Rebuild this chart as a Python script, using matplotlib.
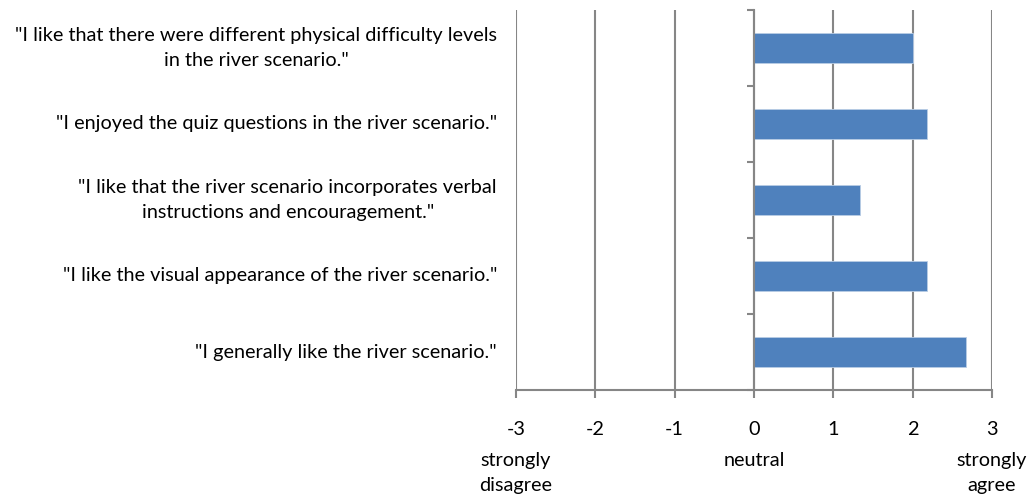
import matplotlib
matplotlib.use("Agg")
import matplotlib.pyplot as plt
import matplotlib.transforms as mtransforms

statements = [
    '"I like that there were different physical difficulty levels\nin the river scenario."',
    '"I enjoyed the quiz questions in the river scenario."',
    '"I like that the river scenario incorporates verbal\ninstructions and encouragement."',
    '"I like the visual appearance of the river scenario."',
    '"I generally like the river scenario."',
]
scores = [2.0, 2.18, 1.33, 2.18, 2.67]
xticks = [-3, -2, -1, 0, 1, 2, 3]
scale_labels = ["strongly\ndisagree", "neutral", "strongly\nagree"]
scale_positions = [-3, 0, 3]

plt.rcParams['font.family'] = ['Lato', 'DejaVu Sans']
FS = 14.35
GRID = '#868686'

fig = plt.figure(figsize=(10.32, 4.98), dpi=100)
ax = fig.add_axes([516/1032, 1-390/498, (992-516)/1032, 380/498])

ypos = list(range(len(statements)))
ax.barh(ypos, scores, height=0.4, color='#4F81BD', edgecolor='#B9CDE5', linewidth=0.6, zorder=3)

ax.set_xlim(-3, 3)
ax.set_ylim(len(statements) - 0.5, -0.5)

for x in xticks:
    ax.axvline(x, color=GRID, linewidth=1.5, zorder=1)

ax.spines['top'].set_visible(False)
ax.spines['right'].set_visible(False)
ax.spines['left'].set_position(('data', 0))
ax.spines['left'].set_color(GRID)
ax.spines['left'].set_linewidth(1.5)
ax.spines['left'].set_zorder(4)
ax.spines['bottom'].set_color(GRID)
ax.spines['bottom'].set_linewidth(1.5)

ax.set_yticks([i - 0.5 for i in range(len(statements) + 1)])
ax.set_yticklabels([])
ax.tick_params(axis='y', length=5, width=1.5, color=GRID, direction='out')

ax.set_xticks(xticks)
ax.set_xticklabels([str(t) for t in xticks], fontsize=FS)
ax.tick_params(axis='x', length=6, width=1.5, color=GRID, direction='out', pad=16)

trans_y = mtransforms.blended_transform_factory(ax.transAxes, ax.transData)
for i, s in enumerate(statements):
    ax.text(-19/476, i, s, transform=trans_y, ha='right', va='center',
            multialignment='center', fontsize=FS, linespacing=1.6)

trans_x = mtransforms.blended_transform_factory(ax.transData, fig.transFigure)
for x, s in zip(scale_positions, scale_labels):
    ax.text(x, 1 - 452/498, s, transform=trans_x, ha='center', va='top',
            fontsize=FS, linespacing=1.6)

fig.savefig('out.png', dpi=100)
